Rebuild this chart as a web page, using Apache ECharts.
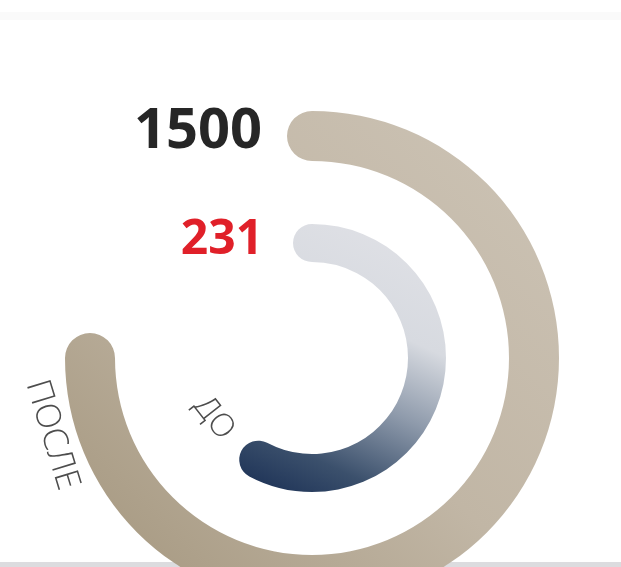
<!DOCTYPE html>
<html>
<head>
<meta charset="utf-8">
<script src="https://cdn.jsdelivr.net/npm/echarts@6/dist/echarts.min.js"></script>
<style>
html,body{margin:0;padding:0;background:#fff;}
#chart{width:621px;height:567px;}
</style>
</head>
<body>
<div id="chart"></div>
<script>
// Data
var categories = ['ПОСЛЕ', 'ДО'];
var values = [1500, 231];
var scaleMax = [2000, 400];
var valueColors = ['#262626', '#e02029'];

var chart = echarts.init(document.getElementById('chart'), null, {renderer: 'canvas'});

var center = [312, 358];

function ring(idx, radius, width, color, labelOffset, fontSize) {
  return {
    type: 'gauge',
    center: center,
    radius: radius,
    startAngle: 90,
    endAngle: -270,
    min: 0,
    max: scaleMax[idx],
    pointer: {show: false},
    axisLine: {show: true, lineStyle: {width: width, color: [[1, 'rgba(0,0,0,0)']]}},
    axisTick: {show: false},
    splitLine: {show: false},
    axisLabel: {show: false},
    progress: {show: true, width: width, roundCap: true, itemStyle: {color: color}},
    title: {show: false},
    anchor: {show: false},
    detail: {
      show: true,
      offsetCenter: labelOffset,
      formatter: '{value}',
      fontFamily: 'Open Sans',
      fontWeight: 'bold',
      fontSize: fontSize,
      color: valueColors[idx]
    },
    data: [{value: values[idx], name: categories[idx]}]
  };
}

var outerColor = new echarts.graphic.LinearGradient(1, 0, 0, 1, [
  {offset: 0, color: '#cdc4b6'},
  {offset: 0.5, color: '#c1b6a5'},
  {offset: 1, color: '#a2947b'}
]);
var innerColor = new echarts.graphic.LinearGradient(0.8, 0, 0.2, 1, [
  {offset: 0, color: '#e0e1e6'},
  {offset: 0.35, color: '#d7dae0'},
  {offset: 0.6, color: '#8e9aab'},
  {offset: 0.85, color: '#3b506c'},
  {offset: 1, color: '#22375a'}
]);

chart.setOption({
  backgroundColor: '#ffffff',
  animation: false,
  graphic: [
    {type: 'rect', left: 0, top: 12, shape: {width: 621, height: 8}, style: {fill: '#fafafa'}, silent: true},
    {type: 'rect', left: 0, top: 562, shape: {width: 621, height: 5}, style: {fill: '#dcdcdf'}, silent: true},
    {type: 'text', x: 52, y: 435, rotation: -73 * Math.PI / 180,
     style: {text: categories[0], fontFamily: 'Open Sans', fontWeight: 300, fontSize: 34, fill: '#4d4d4d', align: 'center', verticalAlign: 'middle'}},
    {type: 'text', x: 214, y: 418, rotation: -52 * Math.PI / 180,
     style: {text: categories[1], fontFamily: 'Open Sans', fontWeight: 300, fontSize: 32, fill: '#4d4d4d', align: 'center', verticalAlign: 'middle'}}
  ],
  series: [
    ring(0, 247, 50, outerColor, [-114, -226], 56),
    ring(1, 134, 38, innerColor, [-90, -118], 48)
  ]
});
</script>
</body>
</html>
